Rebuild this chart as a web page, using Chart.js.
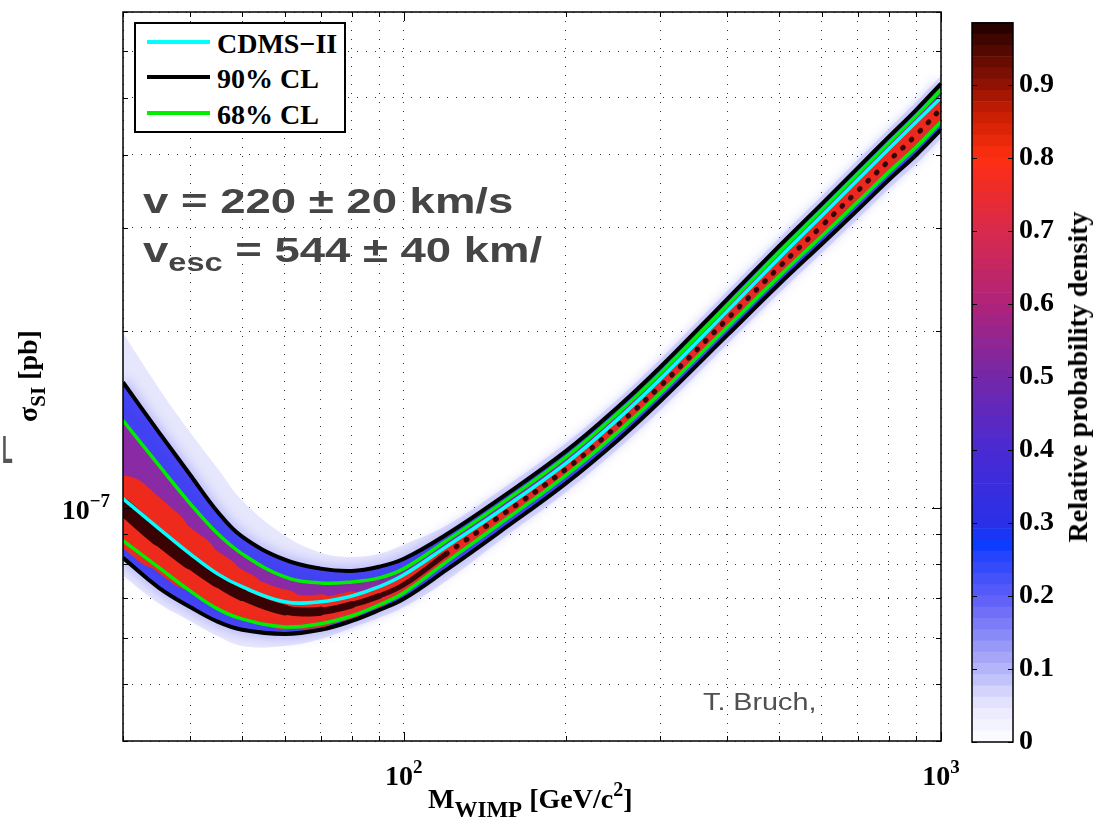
<!DOCTYPE html>
<html>
<head>
<meta charset="utf-8">
<script src="https://cdn.jsdelivr.net/npm/chart.js@4.4.1/dist/chart.umd.min.js"></script>
<style>
  body { margin: 0; background: #fff; }
  #wrap { position: relative; width: 1106px; height: 822px; overflow: hidden;
          font-family: "Liberation Serif", "Times New Roman", serif; font-weight: bold; }
  canvas { position: absolute; top: 0; }
  .serif { position: absolute; white-space: nowrap; font-size: 28px; line-height: 28px; color: #000; }
  .rot { transform: translate(-50%, -50%) rotate(-90deg); }
  .note { position: absolute; white-space: nowrap; font-family: "Liberation Sans", Arial, sans-serif;
          color: #454545; transform-origin: 0 0; }
  #legend { position: absolute; left: 134px; top: 22px; width: 212px; height: 111px; box-sizing: border-box;
            border: 2px solid #000; background: #fff; }
  #legend .swatch { position: absolute; left: 11px; width: 63px; height: 4px; }
</style>
</head>
<body>
<div id="wrap">
  <canvas id="main" width="960" height="822" style="left:0"></canvas>
  <canvas id="cbar" width="206" height="822" style="left:900px"></canvas>

  <div id="legend"></div>

  <div class="note" style="left:143px; top:183px; font-size:35px; line-height:35px; font-weight:bold; transform:scaleX(1.3)">v = 220 ± 20 km/s</div>
  <div class="note" style="left:143px; top:232px; font-size:35px; line-height:35px; font-weight:bold; transform:scaleX(1.3)">v<span style="font-size:25px; position:relative; top:9px">esc</span> = 544 ± 40 km/</div>
  <div class="note" style="left:703px; top:691px; font-size:23px; line-height:23px; font-weight:normal; color:#505050; transform:scaleX(1.25)">T. Bruch,</div>
  <div class="note" style="left:2px; top:430px; font-size:39px; line-height:39px; font-weight:bold; color:#555; transform:scaleX(0.45)">L</div>

  <div class="serif" style="left:428px; top:785px">M<span style="font-size:23px; position:relative; top:9px">WIMP</span> [GeV/c<span style="font-size:20px; position:relative; top:-12px">2</span>]</div>
  <div class="serif rot" style="left:29px; top:376px">σ<span style="font-size:21px; position:relative; top:8px">SI</span> [pb]</div>
  <div class="serif rot" style="left:1078px; top:377px">Relative probability density</div>
</div>

<script>
// WIMP mass grid [GeV/c^2]
const massGeV = [30, 35, 40, 45, 50, 60, 70, 80, 90, 100, 120, 150, 200, 250, 300, 400, 500, 600, 700, 800, 900, 1000];

// cross sections, in units of 1e-8 pb
const cdmsBest    = [10.36, 9.21, 8.34, 7.71, 7.33, 6.91, 6.91, 7.07, 7.33, 7.68, 8.58, 9.84, 11.89, 14.14, 16.55, 21.63, 26.65, 31.44, 36.22, 40.93, 45.50, 50.01];
const upper90     = [16.36, 13.44, 11.38, 9.84, 8.92, 8.15, 7.87, 7.80, 7.93, 8.18, 9.00, 10.32, 12.47, 14.83, 17.35, 22.68, 27.94, 32.96, 37.97, 42.90, 47.72, 52.85];
const lower90     = [8.21, 7.30, 6.77, 6.39, 6.19, 6.09, 6.19, 6.41, 6.69, 6.99, 7.83, 9.06, 10.99, 13.02, 15.18, 19.68, 24.06, 28.16, 32.19, 36.22, 39.97, 44.10];
const upper68     = [14.08, 11.80, 10.16, 9.03, 8.34, 7.62, 7.44, 7.47, 7.59, 7.87, 8.78, 10.08, 12.18, 14.48, 16.94, 22.14, 27.29, 32.19, 37.09, 41.90, 46.61, 51.61];
const lower68     = [8.78, 7.90, 7.21, 6.72, 6.46, 6.26, 6.34, 6.54, 6.83, 7.16, 8.08, 9.35, 11.34, 13.44, 15.66, 20.31, 24.82, 29.06, 33.22, 37.37, 41.25, 45.50];
const densityPeak = [10.04, 8.88, 8.08, 7.50, 7.10, 6.69, 6.66, 6.83, 7.07, 7.39, 8.34, 9.62, 11.61, 13.81, 16.10, 20.96, 25.72, 30.23, 34.69, 39.03, 43.24, 47.89];
const hazeUpper   = [19.84, 15.97, 13.44, 11.66, 10.28, 8.96, 8.38, 8.24, 8.34, 8.65, 9.32, 10.65, 12.87, 15.30, 17.91, 23.40, 28.83, 34.01, 39.19, 44.27, 49.24, 54.55];
const hazeLower   = [7.65, 6.86, 6.41, 6.04, 5.81, 5.81, 5.97, 6.24, 6.49, 6.77, 7.50, 8.75, 10.61, 12.57, 14.65, 18.99, 23.22, 27.18, 31.07, 34.97, 38.57, 42.57];

const yUnit = 1e-8;
const massRange = [30, 1000];
const sigmaRange = [4e-8, 7e-7];

const legendNames = ['CDMS−II', '90% CL', '68% CL'];
const colorbarTicks = [0, 0.1, 0.2, 0.3, 0.4, 0.5, 0.6, 0.7, 0.8, 0.9];
const colorbarMax = 0.985;
const colorbarLevels = 64;

// blue -> purple -> red -> black colormap
const colormapStops = [
  [0, '#ffffff'], [0.05, '#e6e6fe'], [0.1, '#b4b4fa'], [0.15, '#8686f8'], [0.2, '#5c5cf8'],
  [0.25, '#2a46fc'], [0.27, '#0a3cff'], [0.3, '#2a30e8'], [0.4, '#4a2ad2'], [0.5, '#7428a8'],
  [0.6, '#b0237a'], [0.7, '#d82a4c'], [0.8, '#ff2e10'], [0.86, '#c81e02'], [0.9, '#901204'],
  [0.95, '#500800'], [0.985, '#1e0000']
];

const serif = '"Liberation Serif", "Times New Roman", serif';

function hexRgb(h) {
  return [1, 3, 5].map(i => parseInt(h.slice(i, i + 2), 16));
}

function densityColor(v) {
  for (let k = 1; k < colormapStops.length; k++) {
    if (v <= colormapStops[k][0] || k === colormapStops.length - 1) {
      const [v0, c0] = colormapStops[k - 1];
      const [v1, c1] = colormapStops[k];
      const t = Math.min(1, Math.max(0, (v - v0) / (v1 - v0)));
      const a = hexRgb(c0), b = hexRgb(c1);
      return 'rgb(' + a.map((x, i) => Math.round(x + (b[i] - x) * t)).join(',') + ')';
    }
  }
}

const pts = arr => arr.map((v, i) => ({ x: massGeV[i], y: v * yUnit }));

const isDecade = v => Math.abs(Math.log10(v) - Math.round(Math.log10(v))) < 1e-6;
const keepWholeSignificand = scale => {
  scale.ticks = scale.ticks.filter(t => {
    const s = t.value / Math.pow(10, Math.floor(Math.log10(t.value) + 1e-9));
    return Math.abs(s - Math.round(s)) < 1e-6;
  });
};

// stroke width across the 68% band, used for the density ridge
function bandWidth(ctx, share, min) {
  const up = ctx.chart.getDatasetMeta(5).data;
  const lo = ctx.chart.getDatasetMeta(4).data;
  const i = ctx.p0DataIndex, j = ctx.p1DataIndex;
  const v = ((lo[i].y - up[i].y) + (lo[j].y - up[j].y)) / 2;
  const slope = (ctx.p1.y - ctx.p0.y) / (ctx.p1.x - ctx.p0.x);
  return Math.max(min, share * v / Math.sqrt(1 + slope * slope));
}

const hazeFill = '#e6e6fc';
const blueFill = '#4242f2';
const purpleFill = '#8a2aa4';

const datasets = [
  { label: 'haze lower', data: pts(hazeLower), borderWidth: 0, borderColor: 'transparent', fill: false, order: 15 },
  { label: 'haze upper', data: pts(hazeUpper), borderWidth: 0, borderColor: 'transparent',
    fill: { target: 0, above: hazeFill, below: hazeFill }, order: 15 },
  { label: '90% CL lower', data: pts(lower90), borderColor: '#000', borderWidth: 4, fill: false, order: 12 },
  { label: '90% CL', data: pts(upper90), borderColor: '#000', borderWidth: 4,
    fill: { target: 2, above: blueFill, below: blueFill }, order: 12 },
  { label: '68% CL lower', data: pts(lower68), borderColor: '#00ee00', borderWidth: 3.5, fill: false, order: 10 },
  { label: '68% CL', data: pts(upper68), borderColor: '#00ee00', borderWidth: 3.5,
    fill: { target: 4, above: purpleFill, below: purpleFill }, order: 10 },
  { label: 'ridge', data: pts(densityPeak), borderColor: '#ee2a1c', borderWidth: 8, borderCapStyle: 'round',
    segment: { borderWidth: c => bandWidth(c, 0.74, 8) }, fill: false, order: 20 },
  { label: 'peak', data: pts(densityPeak), borderColor: '#3a0303', borderWidth: 5, borderCapStyle: 'round',
    segment: {
      borderWidth: c => bandWidth(c, 0.2, 5),
      borderDash: c => (c.p0DataIndex >= 10 ? [1, 11] : undefined)
    }, fill: false, order: 19 },
  { label: legendNames[0], data: pts(cdmsBest), borderColor: '#00ffff', borderWidth: 3.5, fill: false, order: 0 }
];

// soft blue halo around the 90% contours
const glowPlugin = {
  id: 'glow',
  beforeDatasetDraw(chart, args) {
    if (args.index === 2 || args.index === 3) {
      const c = chart.ctx;
      c.save();
      c.shadowColor = 'rgba(80,80,255,0.75)';
      c.shadowBlur = 12;
    }
  },
  afterDatasetDraw(chart, args) {
    if (args.index === 2 || args.index === 3) chart.ctx.restore();
  }
};

function drawPower(ctx, x, y, exp, align) {
  const base = '10';
  const sup = exp < 0 ? '−' + Math.abs(exp) : String(exp);
  ctx.font = 'bold 28px ' + serif;
  const wb = ctx.measureText(base).width;
  ctx.font = 'bold 19px ' + serif;
  const ws = ctx.measureText(sup).width;
  const left = align === 'center' ? x - (wb + ws) / 2 : x - wb - ws;
  ctx.textAlign = 'left';
  ctx.textBaseline = 'alphabetic';
  ctx.font = 'bold 28px ' + serif;
  ctx.fillText(base, left, y);
  ctx.font = 'bold 19px ' + serif;
  ctx.fillText(sup, left + wb, y - 12);
}

// axes box with inward ticks on all four sides, plus power-of-ten labels
const framePlugin = {
  id: 'frame',
  afterDraw(chart) {
    const { ctx, chartArea: a, scales: { x, y } } = chart;
    ctx.save();
    ctx.strokeStyle = '#000';
    ctx.lineWidth = 1.5;
    ctx.strokeRect(a.left, a.top, a.right - a.left, a.bottom - a.top);
    ctx.lineWidth = 1;
    ctx.beginPath();
    x.ticks.forEach(t => {
      const p = Math.round(x.getPixelForValue(t.value)) + 0.5;
      const len = isDecade(t.value) ? 9 : 5;
      ctx.moveTo(p, a.bottom); ctx.lineTo(p, a.bottom - len);
      ctx.moveTo(p, a.top); ctx.lineTo(p, a.top + len);
    });
    y.ticks.forEach(t => {
      const p = Math.round(y.getPixelForValue(t.value)) + 0.5;
      const len = isDecade(t.value) ? 9 : 5;
      ctx.moveTo(a.left, p); ctx.lineTo(a.left + len, p);
      ctx.moveTo(a.right, p); ctx.lineTo(a.right - len, p);
    });
    ctx.stroke();
    ctx.fillStyle = '#000';
    x.ticks.filter(t => isDecade(t.value)).forEach(t => {
      drawPower(ctx, x.getPixelForValue(t.value), 785, Math.round(Math.log10(t.value)), 'center');
    });
    y.ticks.filter(t => isDecade(t.value)).forEach(t => {
      drawPower(ctx, 110, y.getPixelForValue(t.value) + 11, Math.round(Math.log10(t.value)), 'right');
    });
    ctx.restore();
  }
};

const dottedGrid = { color: 'rgba(0,0,0,0.8)', lineWidth: 1, drawTicks: false };

new Chart(document.getElementById('main'), {
  type: 'line',
  data: { datasets },
  options: {
    responsive: false,
    animation: false,
    events: [],
    layout: { padding: { top: 12, right: 19, bottom: 0, left: 0 } },
    elements: { point: { radius: 0 }, line: { tension: 0.4 } },
    scales: {
      x: {
        type: 'logarithmic', min: massRange[0], max: massRange[1],
        grid: dottedGrid, border: { display: false, dash: [1, 8] },
        ticks: { display: false, autoSkip: false },
        afterBuildTicks: keepWholeSignificand,
        afterFit: s => { s.height = 81; }
      },
      y: {
        type: 'logarithmic', min: sigmaRange[0], max: sigmaRange[1],
        grid: dottedGrid, border: { display: false, dash: [1, 8] },
        ticks: { display: false, autoSkip: false },
        afterBuildTicks: keepWholeSignificand,
        afterFit: s => { s.width = 123; }
      }
    },
    plugins: {
      legend: { display: false },
      tooltip: { enabled: false },
      filler: { drawTime: 'beforeDatasetsDraw', propagate: false }
    }
  },
  plugins: [glowPlugin, framePlugin]
});

// colour bar: stacked bands of equal height
const bandStep = colorbarMax / colorbarLevels;
const bandSets = Array.from({ length: colorbarLevels }, (_, k) => ({
  data: [bandStep],
  backgroundColor: densityColor((k + 0.5) * bandStep),
  borderWidth: 0,
  barPercentage: 1,
  categoryPercentage: 1
}));

const barFrame = {
  id: 'barFrame',
  afterDraw(chart) {
    const { ctx, chartArea: a, scales: { y } } = chart;
    ctx.save();
    ctx.strokeStyle = '#000';
    ctx.lineWidth = 1.5;
    ctx.strokeRect(a.left, a.top, a.right - a.left, a.bottom - a.top);
    ctx.lineWidth = 1;
    ctx.beginPath();
    y.ticks.forEach(t => {
      const p = Math.round(y.getPixelForValue(t.value)) + 0.5;
      ctx.moveTo(a.left, p); ctx.lineTo(a.left + 5, p);
      ctx.moveTo(a.right, p); ctx.lineTo(a.right - 5, p);
    });
    ctx.stroke();
    ctx.restore();
  }
};

new Chart(document.getElementById('cbar'), {
  type: 'bar',
  data: { labels: [''], datasets: bandSets },
  options: {
    responsive: false,
    animation: false,
    events: [],
    layout: { padding: { top: 11, right: 0, bottom: 80, left: 72 } },
    scales: {
      x: { display: false, stacked: true },
      y: {
        stacked: true, position: 'right', min: 0, max: colorbarMax,
        grid: { display: false, drawTicks: false }, border: { display: false },
        afterBuildTicks: s => { s.ticks = colorbarTicks.map(v => ({ value: v })); },
        ticks: {
          padding: 6, color: '#000', autoSkip: false,
          font: { family: serif, size: 28, weight: 'bold' },
          callback: v => (v === 0 ? '0' : v.toFixed(1))
        },
        afterFit: s => { s.width = 93; }
      }
    },
    plugins: { legend: { display: false }, tooltip: { enabled: false } }
  },
  plugins: [barFrame]
});

// legend box
const legendColors = ['#00ffff', '#000000', '#00ee00'];
const legendBox = document.getElementById('legend');
legendNames.forEach((name, i) => {
  const lineY = [18, 53, 89][i];
  const sw = document.createElement('div');
  sw.className = 'swatch';
  sw.style.top = (lineY - 2) + 'px';
  sw.style.background = legendColors[i];
  legendBox.appendChild(sw);
  const tx = document.createElement('div');
  tx.className = 'serif';
  tx.style.left = '81px';
  tx.style.top = (lineY - 12.5) + 'px';
  tx.textContent = name;
  legendBox.appendChild(tx);
});
</script>
</body>
</html>
